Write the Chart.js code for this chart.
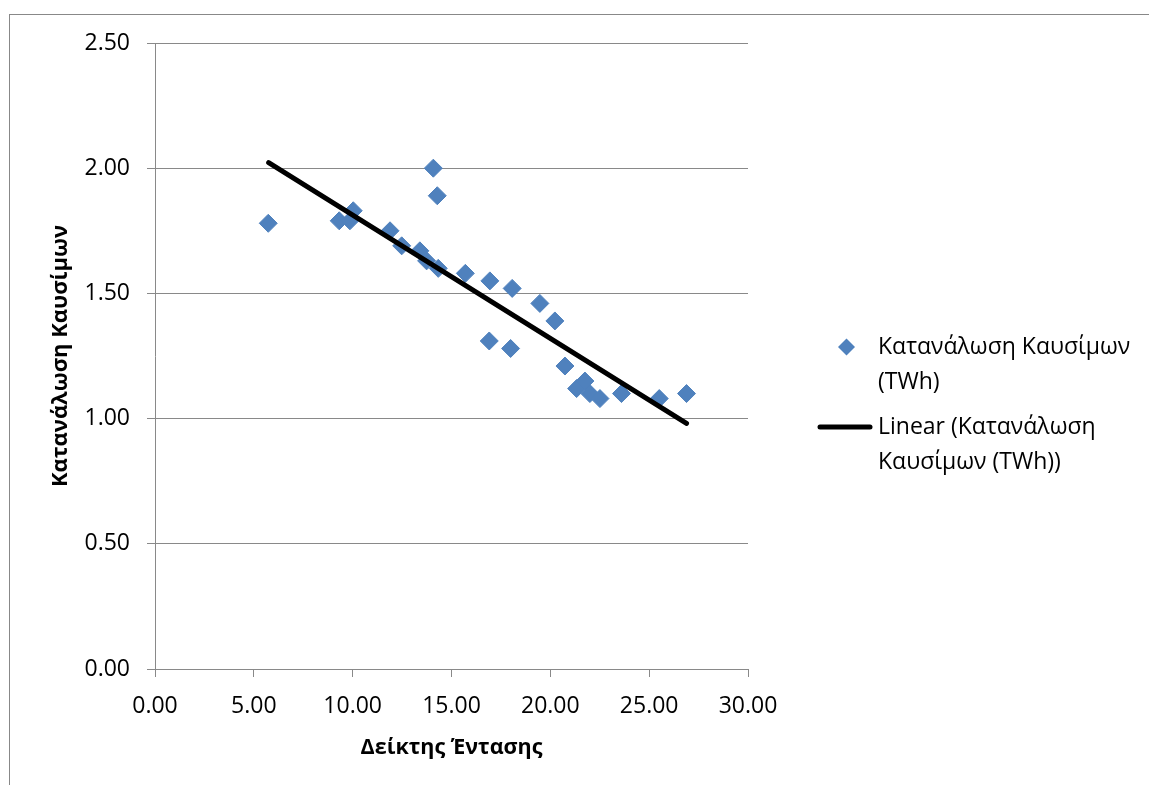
<!DOCTYPE html>
<html>
<head>
<meta charset="utf-8">
<script src="https://cdn.jsdelivr.net/npm/chart.js@4"></script>
<style>
  html, body { margin: 0; padding: 0; background: #fff; overflow: hidden; }
  #wrap { position: relative; width: 1149px; height: 785px; }
  #frame { position: absolute; left: 9px; top: 14px; width: 1160px; height: 800px; border: 1px solid #888; box-sizing: border-box; }
  canvas { position: absolute; left: 0; top: 0; }
</style>
</head>
<body>
<div id="wrap">
  <div id="frame"></div>
  <canvas id="grafico1" width="1149" height="785"></canvas>
</div>
<script>
// Δείκτης Έντασης (x) και Κατανάλωση Καυσίμων (y)
const xValues = [5.73, 9.32, 9.86, 10.03, 11.89, 12.48, 13.40, 13.74, 14.33, 14.08, 14.28, 15.70, 16.94,
  18.07, 19.47, 20.23, 16.91, 17.99, 20.74, 21.33, 21.75, 22.00, 22.51, 23.60, 25.51, 26.89];
const yValues = [1.78, 1.79, 1.79, 1.83, 1.75, 1.69, 1.67, 1.63, 1.60, 2.00, 1.89, 1.58, 1.55,
  1.52, 1.46, 1.39, 1.31, 1.28, 1.21, 1.12, 1.15, 1.10, 1.08, 1.10, 1.08, 1.10];

// γραμμή τάσης (Linear)
const trendX = [5.75, 26.89];
const trendY = [2.022, 0.981];

const xTicks = [0, 5, 10, 15, 20, 25, 30];
const yTicks = [0, 0.5, 1, 1.5, 2, 2.5];

const seriesLabel = 'Κατανάλωση Καυσίμων (TWh)';
const trendLabel = 'Linear (Κατανάλωση Καυσίμων (TWh))';

const blue = '#4F81BD';
const gridGray = '#898989';
const fontFamily = "'Open Sans', 'Noto Sans', sans-serif";

// legend drawn by hand because the labels wrap over two lines
const legendPlugin = {
  id: 'wrappedLegend',
  afterDraw(chart) {
    const c = chart.ctx;
    c.save();
    c.font = '23px ' + fontFamily;
    c.textBaseline = 'middle';
    c.textAlign = 'left';

    // diamond
    const dx = 846.5, dy = 347;
    c.fillStyle = blue;
    c.beginPath();
    c.moveTo(dx - 8.5, dy);
    c.lineTo(dx, dy - 8.5);
    c.lineTo(dx + 8.5, dy);
    c.lineTo(dx, dy + 8.5);
    c.closePath();
    c.fill();

    c.fillStyle = '#000';
    c.fillText('Κατανάλωση Καυσίμων', 878, 347);
    c.fillText('(TWh)', 878, 382);

    // line
    c.strokeStyle = '#000';
    c.lineWidth = 5;
    c.lineCap = 'round';
    c.beginPath();
    c.moveTo(820, 427);
    c.lineTo(870, 427);
    c.stroke();

    c.fillText('Linear (Κατανάλωση', 878, 427);
    c.fillText('Καυσίμων (TWh))', 878, 462);
    c.restore();
  }
};

const ctx = document.getElementById('grafico1');

new Chart(ctx, {
  type: 'scatter',
  data: {
    datasets: [{
      label: seriesLabel,
      data: xValues.map((x, i) => ({ x: x, y: yValues[i] })),
      pointStyle: 'rectRot',
      pointRadius: 9,
      pointBorderWidth: 1,
      backgroundColor: blue,
      borderColor: blue,
      order: 2
    }, {
      label: trendLabel,
      type: 'line',
      data: trendX.map((x, i) => ({ x: x, y: trendY[i] })),
      borderColor: '#000',
      borderWidth: 5,
      borderCapStyle: 'round',
      pointRadius: 0,
      fill: false,
      order: 1
    }]
  },
  options: {
    responsive: false,
    animation: false,
    layout: { padding: { top: 43, right: 401, bottom: 0, left: 0 } },
    plugins: {
      legend: { display: false },
      tooltip: { enabled: false }
    },
    scales: {
      x: {
        type: 'linear',
        min: 0,
        max: 30,
        afterFit: s => { s.height = 116; },
        afterBuildTicks: s => { s.ticks = xTicks.map(v => ({ value: v })); },
        ticks: {
          padding: 16,
          color: '#000',
          font: { family: fontFamily, size: 23 },
          callback: v => v.toFixed(2)
        },
        grid: { drawOnChartArea: false, drawTicks: true, tickLength: 8, color: gridGray },
        border: { color: gridGray },
        title: {
          display: true,
          text: 'Δείκτης Έντασης',
          color: '#000',
          font: { family: fontFamily, size: 21.5, weight: 'bold' },
          padding: { top: 0, bottom: 24 }
        }
      },
      y: {
        min: 0,
        max: 2.5,
        afterFit: s => { s.width = 155; },
        afterBuildTicks: s => { s.ticks = yTicks.map(v => ({ value: v })); },
        ticks: {
          padding: 17,
          color: '#000',
          font: { family: fontFamily, size: 23 },
          callback: v => v.toFixed(2)
        },
        grid: { color: gridGray, tickLength: 8 },
        border: { color: gridGray },
        title: {
          display: true,
          text: 'Κατανάλωση Καυσίμων',
          color: '#000',
          font: { family: fontFamily, size: 22, weight: 'bold' },
          padding: { top: 48, bottom: 0 }
        }
      }
    }
  },
  plugins: [legendPlugin]
});
</script>
</body>
</html>
